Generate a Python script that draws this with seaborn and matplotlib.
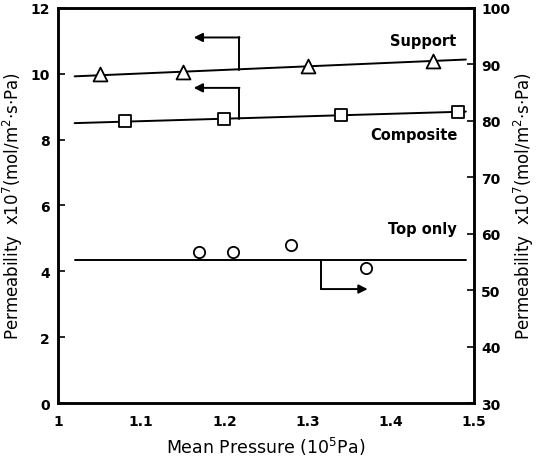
import matplotlib
matplotlib.use("Agg")
import matplotlib.pyplot as plt
import seaborn as sns
import numpy as np
import pandas as pd

# Mean pressure (10^5 Pa) and measured permeabilities (x10^-7 mol/m^2 s Pa)
support_p = [1.05, 1.15, 1.30, 1.45]
support_perm = [10.0, 10.05, 10.22, 10.38]
composite_p = [1.08, 1.20, 1.34, 1.48]
composite_perm = [8.57, 8.62, 8.74, 8.83]
top_p = [1.17, 1.21, 1.28, 1.37]
top_perm = [56.8, 56.8, 58.0, 53.9]

# Fitted trend lines (end points)
fit_p = [1.02, 1.49]
support_fit = [9.92, 10.43]
composite_fit = [8.50, 8.85]
top_fit = [55.4, 55.4]

left_ticks = [0, 2, 4, 6, 8, 10, 12]
right_ticks = [30, 40, 50, 60, 70, 80, 90, 100]
x_ticks = [1.0, 1.1, 1.2, 1.3, 1.4, 1.5]
x_labels = ["1", "1.1", "1.2", "1.3", "1.4", "1.5"]

sns.set_theme(style="white")
plt.rcParams["font.family"] = ["DejaVu Sans"]
plt.rcParams["mathtext.fontset"] = "dejavusans"
plt.rcParams["text.color"] = "black"
plt.rcParams["axes.labelcolor"] = "black"

fig = plt.figure(figsize=(5.37, 4.64), dpi=100)
ax = fig.add_axes([0.108, 0.129, 0.775, 0.852])
ax2 = ax.twinx()

lw = 1.4
sns.lineplot(x=fit_p, y=support_fit, ax=ax, color="black", lw=lw, zorder=2)
sns.lineplot(x=fit_p, y=composite_fit, ax=ax, color="black", lw=lw, zorder=2)
sns.lineplot(x=fit_p, y=top_fit, ax=ax2, color="black", lw=lw, zorder=2)

sns.scatterplot(x=support_p, y=support_perm, ax=ax, marker="^", s=100,
                facecolor="white", edgecolor="black", linewidth=1.3, zorder=3)
sns.scatterplot(x=composite_p, y=composite_perm, ax=ax, marker="s", s=68,
                facecolor="white", edgecolor="black", linewidth=1.3, zorder=3)
sns.scatterplot(x=top_p, y=top_perm, ax=ax2, marker="o", s=66,
                facecolor="white", edgecolor="black", linewidth=1.3, zorder=3)

# Axis-pointer arrows
arrow_kw = dict(arrowstyle="-|>", color="black", lw=lw, mutation_scale=13,
                shrinkA=0, shrinkB=0)
ax.plot([1.218, 1.218], [10.12, 11.1], color="black", lw=lw)
ax.annotate("", xy=(1.163, 11.1), xytext=(1.218, 11.1), arrowprops=arrow_kw)
ax.plot([1.218, 1.218], [8.63, 9.57], color="black", lw=lw)
ax.annotate("", xy=(1.163, 9.57), xytext=(1.218, 9.57), arrowprops=arrow_kw)
ax2.plot([1.316, 1.316], [55.4, 50.2], color="black", lw=lw)
ax2.annotate("", xy=(1.372, 50.2), xytext=(1.316, 50.2), arrowprops=arrow_kw)

txt_kw = dict(fontsize=10.5, fontweight="bold", ha="right", va="center",
              color="black")
ax.text(1.478, 11.0, "Support", **txt_kw)
ax.text(1.480, 8.14, "Composite", **txt_kw)
ax.text(1.479, 5.3, "Top only", **txt_kw)

ax.set_xlim(1.0, 1.5)
ax.set_ylim(0, 12)
ax2.set_ylim(30, 100)
ax.set_xticks(x_ticks)
ax.set_xticklabels(x_labels)
ax.set_yticks(left_ticks)
ax2.set_yticks(right_ticks)

for a in (ax, ax2):
    for sp in a.spines.values():
        sp.set_visible(True)
        sp.set_color("black")
        sp.set_linewidth(1.8)
    a.tick_params(direction="in", length=5, width=1.2, colors="black",
                  labelsize=10, pad=6)
    for lab in a.get_xticklabels() + a.get_yticklabels():
        lab.set_fontweight("bold")
ax.tick_params(axis="x", pad=8)
ax2.tick_params(axis="y", pad=5)

ylab = r"Permeability  x10$^{7}$(mol/m$^{2}$$\cdot$s$\cdot$Pa)"
ax.set_ylabel(ylab, fontsize=12, labelpad=4)
ax2.set_ylabel(ylab, fontsize=12, rotation=90, labelpad=1)
ax.set_xlabel(r"Mean Pressure (10$^{5}$Pa)", fontsize=12.5, labelpad=5)
ax.grid(False)
ax2.grid(False)

fig.savefig("out.png", dpi=100)
